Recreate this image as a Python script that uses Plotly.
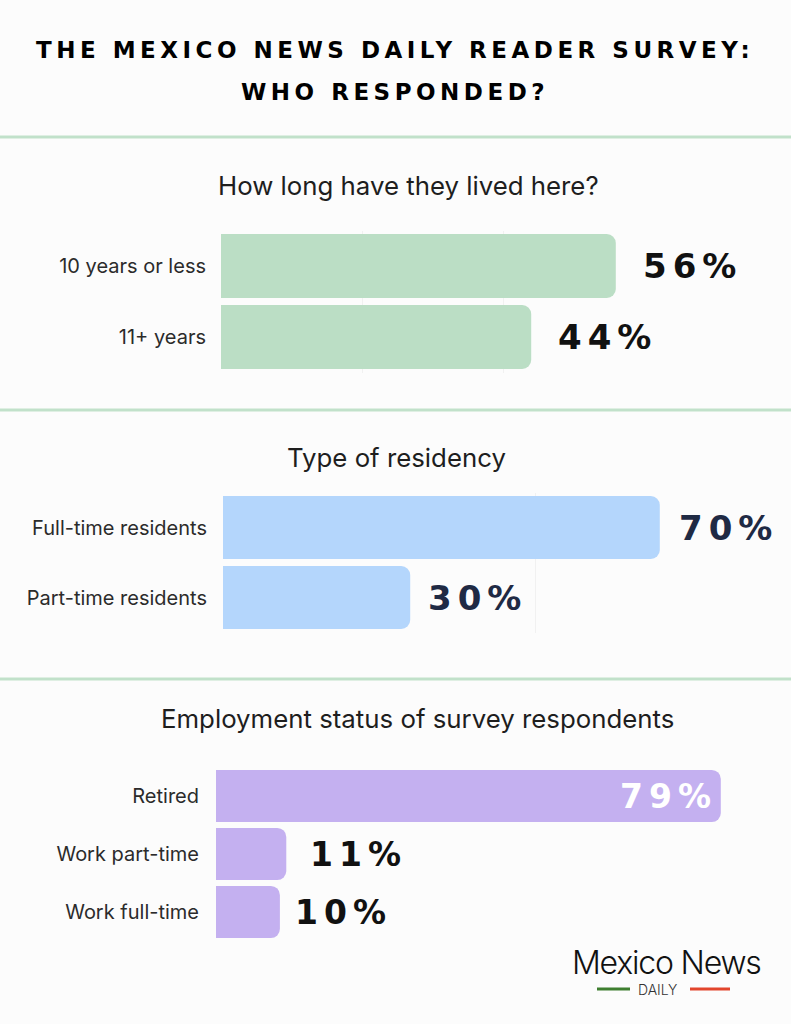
import plotly.graph_objects as go

# ---------------- data ----------------
title_lines = ["THE MEXICO NEWS DAILY READER SURVEY:", "WHO RESPONDED?"]
section_titles = ["How long have they lived here?", "Type of residency",
                  "Employment status of survey respondents"]

tenure_labels = ["10 years or less", "11+ years"]
tenure_values = [56, 44]

residency_labels = ["Full-time residents", "Part-time residents"]
residency_values = [70, 30]

employment_labels = ["Retired", "Work part-time", "Work full-time"]
employment_values = [79, 11, 10]

# ---------------- layout helpers ----------------
W, H = 791, 1024
BG = "#fcfcfc"


def fx(x):
    return x / W


def fy(y):
    return 1 - y / H


# panel geometry in pixels: bar start x, scale px per %, top y, bottom y
panels = [
    dict(labels=tenure_labels, values=tenure_values, color="#bbdec5",
         x0=221, scale=7.05, top=230.5, bottom=372.5, title_y=185, title_x=408,
         txt="#111111", size=34, grid=[20, 40], gap=[25, 25], standoff=14),
    dict(labels=residency_labels, values=residency_values, color="#b4d6fc",
         x0=223, scale=6.24, top=492.5, bottom=632.5, title_y=457, title_x=396,
         txt="#1f2a44", size=34, grid=[50], gap=[17, 16], standoff=15),
    dict(labels=employment_labels, values=employment_values, color="#c4b0f0",
         x0=216, scale=6.39, top=767, bottom=941, title_y=718, title_x=418,
         txt="#111111", size=33, grid=[], gap=[None, 22, 13], standoff=16),
]
X_END = 780

fig = go.Figure()
annotations = []
shapes = []

for i, p in enumerate(panels, start=1):
    sfx = "" if i == 1 else str(i)
    fig.add_trace(go.Bar(
        x=p["values"], y=p["labels"], orientation="h",
        marker=dict(color=p["color"], cornerradius=9, line=dict(width=0)),
        xaxis="x" + sfx, yaxis="y" + sfx, hoverinfo="skip", showlegend=False,
    ))
    fig.layout["xaxis" + sfx] = dict(
        domain=[fx(p["x0"]), fx(X_END)],
        range=[0, (X_END - p["x0"]) / p["scale"]],
        anchor="y" + sfx, showticklabels=False, zeroline=False,
        showgrid=bool(p["grid"]), tickvals=p["grid"], gridcolor="#f1f1f1",
        gridwidth=1, fixedrange=True,
    )
    fig.layout["yaxis" + sfx] = dict(
        domain=[fy(p["bottom"]), fy(p["top"])],
        anchor="x" + sfx, autorange="reversed", showgrid=False,
        zeroline=False, ticklabelstandoff=p["standoff"],
        tickfont=dict(family="Inter", size=20, color="#2b2b2b"),
        fixedrange=True,
    )
    # section title
    annotations.append(dict(
        text=section_titles[i - 1], xref="paper", yref="paper",
        x=fx(p["title_x"]), y=fy(p["title_y"]), xanchor="center",
        yanchor="middle", showarrow=False,
        font=dict(family="Inter", size=25.8, color="#1e1e1e"),
    ))
    # value labels
    for j, (lab, val) in enumerate(zip(p["labels"], p["values"])):
        inside = p["gap"][j] is None
        annotations.append(dict(
            text='<span style="letter-spacing:6px">%d%%</span>' % val,
            x=val, y=lab, xref="x" + sfx, yref="y" + sfx,
            xanchor="right" if inside else "left", yanchor="middle",
            xshift=-2 if inside else p["gap"][j], showarrow=False,
            font=dict(family="DejaVu Sans", size=p["size"], weight="bold",
                      color="#ffffff" if inside else p["txt"]),
        ))

# title
for k, (line, ypx) in enumerate(zip(title_lines, [50, 92])):
    annotations.append(dict(
        text='<span style="letter-spacing:4.5px">%s</span>' % line,
        xref="paper", yref="paper", x=fx(395), y=fy(ypx),
        xanchor="center", yanchor="middle", showarrow=False,
        font=dict(family="DejaVu Sans", size=23, weight="bold", color="#000000"),
    ))

# separators
for ypx in [137, 410, 679]:
    shapes.append(dict(type="line", xref="paper", yref="paper",
                       x0=0, x1=1, y0=fy(ypx), y1=fy(ypx),
                       line=dict(color="#c1e1ca", width=3)))

# logo
annotations.append(dict(
    text='<span style="letter-spacing:-1.2px">Mexico News</span>',
    xref="paper", yref="paper", x=fx(763), y=fy(962),
    xanchor="right", yanchor="middle", showarrow=False,
    font=dict(family="Inter", size=32, weight=300, color="#111111"),
))
annotations.append(dict(
    text="DAILY", xref="paper", yref="paper", x=fx(657), y=fy(989),
    xanchor="center", yanchor="middle", showarrow=False,
    font=dict(family="Inter", size=14, weight=300, color="#333333"),
))
shapes.append(dict(type="line", xref="paper", yref="paper",
                   x0=fx(597), x1=fx(630), y0=fy(989), y1=fy(989),
                   line=dict(color="#3f7f30", width=3)))
shapes.append(dict(type="line", xref="paper", yref="paper",
                   x0=fx(690), x1=fx(730), y0=fy(989), y1=fy(989),
                   line=dict(color="#e2452c", width=3)))

fig.update_layout(
    width=W, height=H, margin=dict(l=0, r=0, t=0, b=0),
    paper_bgcolor=BG, plot_bgcolor=BG, bargap=0.1,
    annotations=annotations, shapes=shapes, showlegend=False,
)

fig.write_html(
    "out.html", config={"displayModeBar": False},
    post_script="document.body.style.margin='0';"
                "document.body.style.background='%s';" % BG,
)
